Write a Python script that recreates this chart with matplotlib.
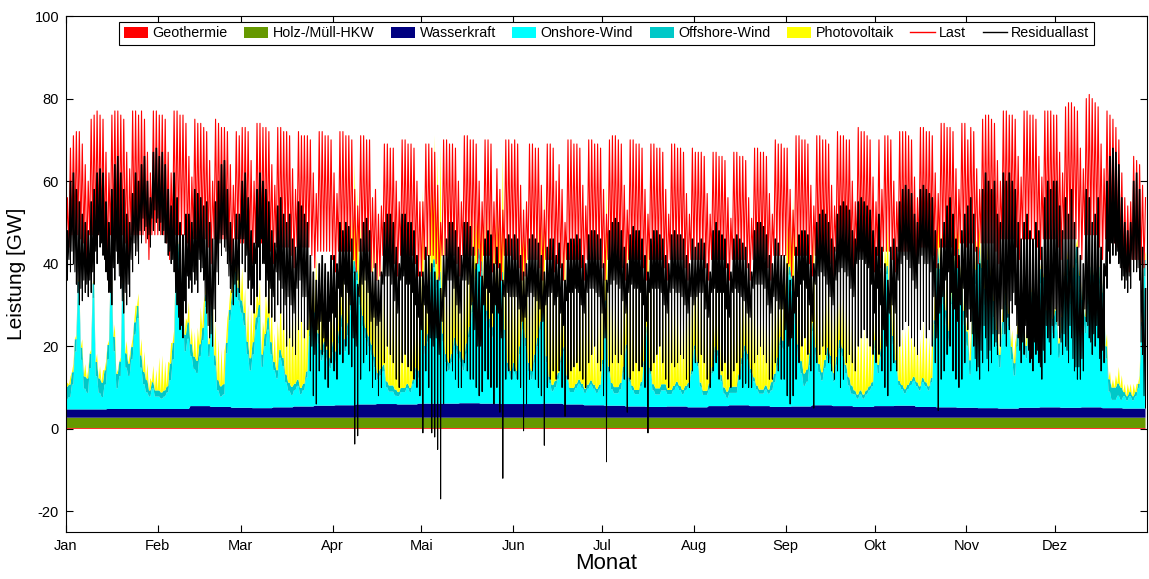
import numpy as np
import matplotlib
matplotlib.use("Agg")
import matplotlib.pyplot as plt
from matplotlib.patches import Patch
from matplotlib.lines import Line2D

plt.rcParams['font.family'] = ['Liberation Sans', 'DejaVu Sans']
plt.rcParams['axes.unicode_minus'] = False

months = ['Jan', 'Feb', 'Mar', 'Apr', 'Mai', 'Jun', 'Jul', 'Aug', 'Sep', 'Okt', 'Nov', 'Dez']
month_start_day = [0, 31, 59, 90, 120, 151, 181, 212, 243, 273, 304, 334]

# ---- Last (load): daily peak and night trough [GW] ----
peak_jan = [56,68,71,72,72,69,64,60, 75,76,77,76,75,67,62, 76,77,77,76,75,67,63, 77,77,76,77,75,67,62, 77,77]
low_jan = [42,44,47,47,47,46,45,41, 47,47,47,47,47,45,41, 47,47,47,47,47,45,41, 47,47,47,47,47,45,41, 47,47]
peak_feb = [76,76,75,67,62, 77,77,76,76,74,66,61, 75,74,74,73,72,65,60, 75,74,73,73,72,64,59, 72,71]
low_feb = [47,47,47,45,41, 47,47,47,47,47,45,41, 46,46,46,46,46,44,40, 46,46,46,46,46,44,40, 46,46]
peak_mar = [73,73,72,65,60, 74,74,73,73,72,64,59, 73,73,72,72,71,63,58, 72,71,71,71,70,62,57, 72,72,71,71,70]
low_mar = [45,45,45,43,40, 45,45,45,45,45,43,40, 44,44,44,44,44,42,39, 44,44,44,44,44,42,39, 43,43,43,43,43]
peak_apr = [62,57, 72,72,71,71,70, 58,54, 71,71,70,70, 56,58,52,54, 69,69,68,68, 60,55, 70,70,69,69,68, 60,55]
low_apr = [41,38, 43,43,43,43,43, 41,38, 43,43,43,43, 38,39,36,37, 42,42,42,42, 40,37, 42,42,42,42,42, 40,37]
peak_may = [55,69,69,68,67,59,50, 70,70,69,69,68,60,55, 71,71,70,70,69,60,55, 70,70,69,55,63,58,53, 70,70,69]
low_may = [37,41,42,42,42,40,36, 42,42,42,42,42,40,37, 42,42,42,42,42,40,37, 42,42,42,38,40,39,36, 42,42,42]
peak_jun = [70,69,59,53, 55,69,69,68,68,59,53, 69,69,68,60,64,58,50, 70,70,69,69,68,59,54, 70,70,69,69,68]
low_jun = [41,41,39,36, 37,41,41,41,41,39,36, 41,41,41,38,40,39,36, 41,41,41,41,41,39,36, 41,41,41,41,41]
peak_jul = [58,52, 70,71,71,70,69,59,53, 70,70,69,69,68,58,52, 69,69,68,68,67,58,52, 69,69,68,68,67,57,52, 68]
low_jul = [39,36, 41,41,41,41,41,39,36, 41,41,41,41,41,39,36, 41,41,41,41,41,39,36, 41,41,41,41,41,39,36, 41]
peak_aug = [67,67,67,66,57,52, 67,67,66,66,65,56,51, 67,67,66,66,65,56,51, 68,68,67,67,66,57,52, 70,69,69,68]
low_aug = [41,41,41,41,39,36, 41,41,41,41,41,39,36, 41,41,41,41,41,39,36, 41,41,41,41,41,39,36, 42,42,42,42]
peak_sep = [68,58,53, 71,71,70,70,69,59,54, 71,71,70,70,69,59,54, 72,71,71,70,70,60,55, 73,72,72,71,70,61]
low_sep = [42,40,37, 42,42,42,42,42,40,37, 42,42,42,42,42,40,37, 43,43,43,43,43,41,38, 43,43,43,43,43,41]
peak_oct = [55,70,58,71,71,70,60,55, 72,72,72,71,70,61,56, 73,73,72,72,71,62,57, 74,74,73,73,72,63,58, 74,74]
low_oct = [38,42,39,43,43,43,41,38, 43,43,43,43,43,41,38, 44,44,44,44,44,42,39, 44,44,44,44,44,42,39, 45,45]
peak_nov = [70,73,72,63,58, 75,76,76,75,74,65,60, 77,77,76,76,75,66,61, 77,77,76,76,75,66,61, 77,77,77,76]
low_nov = [44,45,45,43,40, 45,45,45,45,45,43,40, 46,46,46,46,46,44,41, 46,46,46,46,46,44,41, 46,46,46,46]
peak_dec = [76,67,62, 78,79,79,78,77,68,63, 80,81,80,79,78,69,63, 77,76,75,73,70,62,56, 54,55,66,65,64,59,56]
low_dec = [46,44,41, 46,46,46,46,46,44,41, 47,47,47,47,47,44,41, 46,46,46,45,44,42,39, 38,38,41,41,41,40,39]

# ---- Residuallast: daily maximum, minimum and night value [GW] ----
res_hi_jan = [48,60,62,58,55,52,50,48,55,58,62,63,62,55,50,58,64,66,62,58,52,50,57,62,60,64,66,60,56,67,68]
res_lo_jan = [36,38,40,35,30,31,33,32,33,35,40,44,42,38,33,30,36,40,34,28,30,32,38,42,40,45,48,46,44,48,50]
res_nt_jan = [39,41,43,38,33,34,36,35,36,38,43,47,45,41,36,33,39,43,37,31,33,35,41,45,43,48,51,49,47,51,53]
res_hi_feb = [66,67,64,58,54,62,56,50,47,52,52,50,58,57,56,54,55,50,46,55,60,64,65,58,50,46,52,52]
res_lo_feb = [48,47,45,42,40,38,30,24,22,28,34,33,35,33,38,36,28,22,20,26,35,42,44,40,34,30,32,33]
res_nt_feb = [51,50,48,45,43,41,33,27,25,31,37,36,38,36,41,39,31,25,23,29,38,45,47,43,37,33,35,36]
res_hi_mar = [60,62,56,48,45,58,62,60,58,55,48,45,54,56,52,50,52,46,44,55,54,52,50,42,38,36,40,42,40,38,42]
res_lo_mar = [40,38,34,30,28,32,36,40,32,28,27,26,30,28,24,20,22,20,18,24,26,22,24,14,8,6,14,18,12,10,16]
res_nt_mar = [46,46,42,36,34,40,44,46,40,36,34,32,38,36,34,30,32,30,28,34,36,32,32,24,20,18,24,26,22,20,26]
res_hi_apr = [42,40,50,48,50,49,46,38,35,46,50,51,48,38,40,36,38,50,52,52,50,44,40,52,52,50,50,48,42,38]
res_lo_apr = [14,12,18,16,20,18,15,-3.7,-1.7,12,16,18,14,10,12,8,10,16,20,18,16,12,10,16,18,15,14,12,10,8]
res_nt_apr = [28,27,34,32,35,33,30,22,20,32,35,36,33,26,27,25,26,35,37,37,35,31,28,36,37,35,35,33,30,27]
res_hi_may = [38,44,42,40,38,36,34,42,46,50,50,48,44,42,50,50,49,44,40,38,37,46,48,47,40,44,40,36,46,47,46]
res_lo_may = [-1,14,10,-1,-2,-5,-17,6,14,16,14,12,10,10,16,14,12,12,10,8,9,14,12,10,6,10,4,-12,12,14,12]
res_nt_may = [24,30,28,22,20,22,18,26,32,36,36,34,30,28,36,36,35,30,24,20,20,30,34,33,28,30,28,22,32,33,32]
res_hi_jun = [47,46,42,38,40,46,47,46,45,42,38,44,46,46,42,45,40,36,45,46,46,47,46,42,40,47,48,48,47,46]
res_lo_jun = [14,12,10,-0.5,6,12,14,12,10,8,-4,10,12,14,12,14,10,3,12,14,15,16,14,12,10,16,18,20,16,14]
res_nt_jun = [32,32,29,26,27,32,33,32,31,29,26,30,32,33,30,32,28,25,31,33,33,34,33,30,28,33,34,34,33,32]
res_hi_jul = [40,36,48,50,51,50,48,44,40,47,49,48,48,46,42,38,46,48,48,47,46,42,40,47,48,47,47,46,42,40,46]
res_lo_jul = [8,-8,14,16,18,16,18,12,4,12,14,16,14,15,10,-1,14,16,18,20,16,12,10,16,15,16,18,17,12,10,14]
res_nt_jul = [28,22,33,35,36,35,34,31,28,33,35,34,34,33,30,26,33,34,34,34,33,30,28,33,34,33,33,32,30,28,32]
res_hi_aug = [44,45,46,45,40,38,48,50,48,47,46,40,38,46,47,46,45,44,40,38,48,50,50,49,47,42,40,46,45,42,42]
res_lo_aug = [16,16,18,16,12,10,14,16,12,14,16,12,10,14,16,12,10,11,10,10,16,18,20,18,16,12,12,16,14,12,12]
res_nt_aug = [30,32,33,33,29,27,33,34,33,33,33,29,27,33,34,33,32,31,28,27,34,35,35,35,34,30,28,32,31,29,29]
res_hi_sep = [40,36,37,44,47,48,48,47,42,40,50,52,53,52,50,46,44,52,54,55,54,53,48,46,55,56,55,54,53,48]
res_lo_sep = [8,6,8,12,16,20,22,18,14,5,16,18,20,18,16,14,12,14,10,12,16,18,16,14,20,22,24,22,20,18]
res_nt_sep = [24,20,22,28,32,35,36,34,30,26,35,37,38,37,35,32,30,36,38,39,38,37,34,32,40,41,41,40,39,35]
res_hi_oct = [44,52,44,40,36,44,46,44,55,58,59,58,57,52,50,58,59,58,57,56,48,40,46,50,54,56,52,46,42,48,52]
res_lo_oct = [16,18,14,10,8,14,16,14,20,24,26,25,22,20,18,24,26,22,24,20,16,4.4,12,14,18,20,14,12,10,12,16]
res_nt_oct = [28,34,30,24,20,28,30,28,36,40,42,41,39,36,34,40,42,40,40,38,32,22,28,32,36,38,33,29,26,30,34]
res_hi_nov = [54,56,52,44,40,58,62,60,58,60,52,50,62,60,62,60,58,50,46,50,52,48,46,50,48,44,56,60,58,60]
res_lo_nov = [24,26,20,14,12,16,22,14,16,20,18,20,26,20,24,28,30,22,16,18,22,16,14,18,16,12,16,22,18,22]
res_nt_nov = [27,29,23,17,15,19,25,17,19,23,21,23,29,23,27,31,33,25,19,21,25,19,17,21,19,15,19,25,21,25]
res_hi_dec = [60,54,48,56,52,58,50,44,42,40,58,56,50,52,56,44,40,60,66,68,67,64,56,50,48,50,60,62,58,44,34]
res_lo_dec = [26,22,18,20,16,22,14,12,12,14,26,22,18,20,22,14,16,34,40,42,42,40,36,34,33,34,38,38,36,18,5]
res_nt_dec = [29,25,21,23,19,25,17,15,15,17,29,25,21,23,25,17,19,37,43,45,45,43,39,37,36,37,41,41,39,21,8]

# ---- Onshore wind, daily [GW] ----
won_jan = [2.5,3,6,14,28,12,5,4,10,27,8,4,3,6,12,28,14,5,8,27,10,8,12,18,22,10,6,4,3,5,3]
won_feb = [3,2.5,3,4,7,12,30,36,26,14,17,12,9,8,12,16,24,12,22,10,4,2.5,3,13,21,25,30,26]
won_mar = [23,20,13,9,13,19,22,10,15,19,13,9,7,12,10,6,4,3,4,5,3,4,7,17,22,20,15,11,13,11,9]
won_apr = [13,10,15,19,13,17,23,32,30,24,19,16,14,12,9,6,7,8,4,3,3,2,2,3,3,4,3,5,8,6]
won_may = [22,12,15,30,33,28,30,15,10,8,10,14,12,10,8,12,16,22,30,35,32,25,20,18,16,24,22,30,16,8,6]
won_jun = [8,6,12,18,14,8,6,10,14,18,22,10,5,3,4,6,10,13,6,3,3,4,5,4,3,4,5,4,3,4]
won_jul = [10,24,8,4,3,3,4,8,14,6,4,3,3,5,10,18,8,4,3,3,4,4,3,3,4,5,4,3,4,5,8]
won_aug = [14,10,5,3,3,4,8,13,12,6,3,2,3,3,3,6,10,13,11,8,6,4,3,3,4,3,4,6,10,15,14]
won_sep = [25,32,28,20,12,8,5,6,10,18,12,8,6,9,12,10,6,10,14,12,8,5,3,3,2,3,2,3,4,5]
won_oct = [14,8,12,25,32,22,15,10,5,4,3,4,5,6,5,4,6,5,4,6,20,35,30,25,20,15,25,32,35,28,20]
won_nov = [15,8,20,30,35,30,25,32,28,22,15,10,18,25,20,12,8,15,22,18,12,20,25,18,22,30,28,20,25,18]
won_dec = [20,12,18,28,32,25,30,35,28,22,18,25,30,28,22,30,25,12,4,2,2,3,2,3,2,3,2,3,5,20,32]

# ---- Photovoltaik, daily midday peak [GW] ----
pv_jan = [1,2,2,1,1,2,3,2,1,1,2,3,3,2,1,2,3,1,1,2,3,2,2,4,3,4,5,4,3,4,5]
pv_feb = [8,9,7,6,5,3,2,2,3,4,5,4,6,8,9,6,4,3,5,8,10,9,8,6,5,7,8,9]
pv_mar = [8,6,9,12,10,7,6,8,10,12,9,7,12,14,15,18,22,25,24,26,25,22,15,12,10,14,18,20,16,18,22]
pv_apr = [20,18,22,24,18,16,20,24,20,18,22,24,26,25,27,28,26,24,22,25,26,27,24,22,20,25,27,26,24,22]
pv_may = [28,22,25,29,30,30,31,26,20,24,27,28,22,18,25,27,28,20,12,8,10,18,24,26,27,25,27,29,22,26,28]
pv_jun = [26,24,27,29,26,22,25,27,28,26,29,24,26,28,27,25,27,29,28,26,22,18,24,27,28,26,20,15,22,26]
pv_jul = [27,29,26,27,28,25,20,24,28,27,26,28,27,25,26,28,27,26,22,18,24,26,27,25,26,24,20,22,25,26,24]
pv_aug = [25,24,26,25,22,20,18,16,20,24,25,24,22,26,25,20,18,15,18,22,24,23,25,24,22,20,24,23,18,16,20]
pv_sep = [18,15,20,22,21,20,18,22,20,25,18,16,20,22,19,17,20,18,15,18,20,22,21,20,19,18,17,16,18,17]
pv_oct = [16,15,14,12,10,12,14,15,16,14,15,16,13,15,14,12,14,13,12,11,10,12,9,8,10,9,7,8,6,7,6]
pv_nov = [6,5,6,7,5,4,5,6,4,3,5,4,6,5,3,4,5,4,3,4,3,3,4,3,2,3,3,2,3,2]
pv_dec = [2,3,2,2,3,2,1,2,2,3,2,2,1,2,3,2,2,3,2,2,3,4,3,2,3,2,3,2,2,3,2]

# ---- weekly values [GW] ----
offshore_weekly = [3,3.5,3.5,3,1.5,4,3,2.5,3,3, 2,1.5,2.5,3,2.5,1.5,1,2,2,2.5,
                   2.5,2,2,1.5,1,1,1.5,1,1.5,1, 1,1.5,1.5,1,2,3,2,2,1,2,
                   1,1,3.5,3.5,4,3,3,3.5,4,4, 3,1,4]
hydro_weekly = [2.0,2.0,2.1,2.1,2.1,2.1,2.8,2.6,2.4,2.3, 2.5,2.7,2.9,3.0,3.2,3.3,3.2,3.4,3.4,3.5,
                3.4,3.3,3.3,3.4,3.2,3.0,2.9,2.7,2.6,2.7, 2.5,2.8,3.0,2.8,2.6,2.7,3.0,2.8,2.6,2.8,
                2.9,2.6,2.5,2.4,2.3,2.2,2.4,2.5,2.4,2.5, 2.3,2.2,2.2]
holz_value = 2.5
geo_value = 0.2


def cat(*lists):
    out = []
    for l in lists:
        out += l
    return np.array(out, dtype=float)


load_peak = cat(peak_jan, peak_feb, peak_mar, peak_apr, peak_may, peak_jun,
                peak_jul, peak_aug, peak_sep, peak_oct, peak_nov, peak_dec)
load_low = cat(low_jan, low_feb, low_mar, low_apr, low_may, low_jun,
               low_jul, low_aug, low_sep, low_oct, low_nov, low_dec)
res_hi = cat(res_hi_jan, res_hi_feb, res_hi_mar, res_hi_apr, res_hi_may, res_hi_jun,
             res_hi_jul, res_hi_aug, res_hi_sep, res_hi_oct, res_hi_nov, res_hi_dec)
res_lo = cat(res_lo_jan, res_lo_feb, res_lo_mar, res_lo_apr, res_lo_may, res_lo_jun,
             res_lo_jul, res_lo_aug, res_lo_sep, res_lo_oct, res_lo_nov, res_lo_dec)
res_nt = cat(res_nt_jan, res_nt_feb, res_nt_mar, res_nt_apr, res_nt_may, res_nt_jun,
             res_nt_jul, res_nt_aug, res_nt_sep, res_nt_oct, res_nt_nov, res_nt_dec)
won = cat(won_jan, won_feb, won_mar, won_apr, won_may, won_jun,
          won_jul, won_aug, won_sep, won_oct, won_nov, won_dec)
pv = cat(pv_jan, pv_feb, pv_mar, pv_apr, pv_may, pv_jun,
         pv_jul, pv_aug, pv_sep, pv_oct, pv_nov, pv_dec)

for arr in (load_peak, load_low, res_hi, res_lo, res_nt, won, pv):
    assert len(arr) == 365, len(arr)

ndays = 365
days = np.arange(ndays)
woff = np.repeat(np.array(offshore_weekly), 7)[:ndays]
hydro = np.repeat(np.array(hydro_weekly), 7)[:ndays]

# load & generation: two samples per day (night, midday)
t2 = np.arange(2 * ndays) / 2.0


def zig(night, noon):
    out = np.empty(2 * ndays)
    out[0::2] = night
    out[1::2] = noon
    return out


last_line = zig(load_low, load_peak)
s_geo = np.full(2 * ndays, geo_value)
s_holz = np.full(2 * ndays, holz_value)
s_hydro = np.repeat(hydro, 2)
s_won = np.repeat(won, 2)
s_woff = np.repeat(woff, 2)
s_pv = zig(np.zeros(ndays), pv)

# residual load: night, morning shoulder, midday minimum, evening shoulder
t4 = np.column_stack([days + 0.0, days + 0.38, days + 0.5, days + 0.62]).ravel()
res_line = np.column_stack([res_nt, res_hi, res_lo, res_hi]).ravel()

c_geo = '#FF0000'
c_holz = '#669900'
c_hydro = '#000080'
c_won = '#00FFFF'
c_woff = '#00C8C8'
c_pv = '#FFFF00'

fig = plt.figure(figsize=(11.49, 5.79), dpi=100)
ax = fig.add_axes([66 / 1149, 47 / 579, 1081 / 1149, 516 / 579])

ax.stackplot(t2, s_geo, s_holz, s_hydro, s_won, s_woff, s_pv,
             colors=[c_geo, c_holz, c_hydro, c_won, c_woff, c_pv], linewidth=0)
ax.plot(t2, last_line, color='red', lw=0.8)
ax.plot(t4, res_line, color='black', lw=0.7)

ax.set_xlim(0, 365)
ax.set_ylim(-25, 100)
ax.set_xticks(month_start_day)
ax.set_xticklabels(months)
ax.set_yticks(range(-20, 101, 20))
ax.tick_params(direction='in', top=True, right=True, length=5, labelsize=10.5, pad=5)
ax.set_xlabel('Monat', fontsize=16, labelpad=0)
ax.set_ylabel('Leistung [GW]', fontsize=15, labelpad=6)

handles = [Patch(facecolor=c_geo), Patch(facecolor=c_holz), Patch(facecolor=c_hydro),
           Patch(facecolor=c_won), Patch(facecolor=c_woff), Patch(facecolor=c_pv),
           Line2D([], [], color='red', lw=1), Line2D([], [], color='black', lw=1)]
labels = ['Geothermie', 'Holz-/Müll-HKW', 'Wasserkraft', 'Onshore-Wind',
          'Offshore-Wind', 'Photovoltaik', 'Last', 'Residuallast']
leg = ax.legend(handles, labels, loc='upper center', bbox_to_anchor=(0.5, 1 - 6 / 516),
                ncol=8, fontsize=10.3, frameon=True, fancybox=False, edgecolor='black',
                framealpha=1, handlelength=1.7, handleheight=0.8, handletextpad=0.3,
                columnspacing=1.15, borderpad=0.3, borderaxespad=0)
leg.get_frame().set_linewidth(0.8)

fig.savefig('out.png', dpi=100)
